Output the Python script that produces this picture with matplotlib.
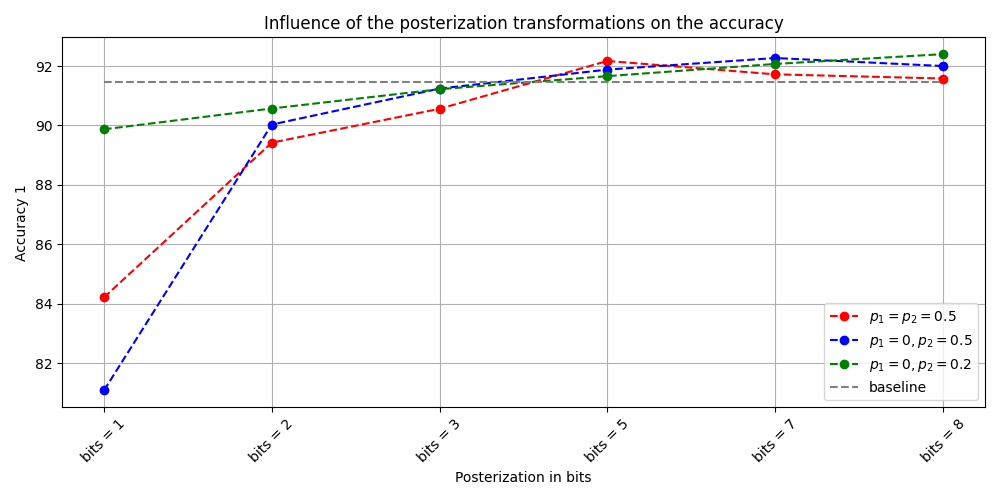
import matplotlib
matplotlib.use("Agg")
import matplotlib.pyplot as plt

# data
bits = ['bits = 1', 'bits = 2', 'bits = 3', 'bits = 5', 'bits = 7', 'bits = 8']
acc_p05_p05 = [84.21, 89.42, 90.56, 92.17, 91.72, 91.58]
acc_p0_p05 = [81.08, 90.03, 91.24, 91.88, 92.27, 92.00]
acc_p0_p02 = [89.87, 90.57, 91.22, 91.66, 92.07, 92.40]
baseline = 91.47

x = list(range(len(bits)))

plt.figure(figsize=(10, 5), dpi=100)
plt.plot(x, acc_p05_p05, 'o--', color='red', label=r'$p_1 = p_2 = 0.5$')
plt.plot(x, acc_p0_p05, 'o--', color='blue', label=r'$p_1 = 0, p_2 = 0.5$')
plt.plot(x, acc_p0_p02, 'o--', color='green', label=r'$p_1 = 0, p_2 = 0.2$')
plt.plot(x, [baseline] * len(x), '--', color='gray', label='baseline')

plt.xticks(x, bits, rotation=45)
plt.xlabel("Posterization in bits")
plt.ylabel("Accuracy 1")
plt.title("Influence of the posterization transformations on the accuracy")
plt.grid(True)
plt.legend(loc='lower right')
plt.tight_layout()
plt.savefig("out.png")
